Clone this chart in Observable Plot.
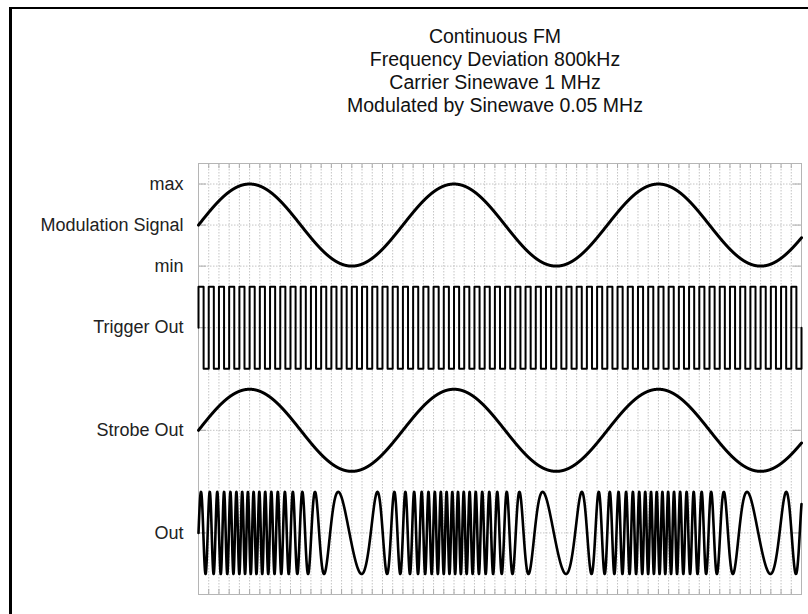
<!DOCTYPE html>
<html>
<head>
<meta charset="utf-8">
<script src="https://cdn.jsdelivr.net/npm/d3@7"></script>
<script src="https://cdn.jsdelivr.net/npm/@observablehq/plot@0.6"></script>
<style>
  html, body { margin: 0; padding: 0; background: #fff; }
  #wrap { position: relative; width: 808px; height: 614px; overflow: hidden; font-family: "Liberation Sans", Arial, sans-serif; }
  #border { position: absolute; left: 9px; top: 7px; width: 820px; height: 640px; border-top: 2px solid #000; border-left: 3px solid #000; box-sizing: border-box; }
  #title { position: relative; height: 130px; box-sizing: border-box; padding-top: 25px; padding-left: 182px; text-align: center; font-size: 19.5px; line-height: 23px; color: #111; }
  #chart svg { display: block; }
</style>
</head>
<body>
<div id="wrap">
  <div id="border"></div>
  <div id="title"></div>
  <div id="chart"></div>
</div>
<script>
// ---- data ----
const titleLines = ["Continuous FM", "Frequency Deviation 800kHz", "Carrier Sinewave 1 MHz", "Modulated by Sinewave 0.05 MHz"];
const timeSpanUs = [0, 59];          // microseconds shown
const carrierMHz = [1];
const modulationMHz = [0.05];
const deviationMHz = [0.8];
const channelNames = ["Modulation Signal", "Trigger Out", "Strobe Out", "Out"];
const channelCenters = [3, 2, 1, 0];
const channelAmplitude = [0.4];
const levelLabels = ["max", "min"];
const levelValues = [3.4, 2.6];

document.getElementById("title").innerHTML = titleLines.map(s => `<div>${s}</div>`).join("");

const fc = carrierMHz[0], fm = modulationMHz[0], df = deviationMHz[0], A = channelAmplitude[0];
const [t0, t1] = timeSpanUs;

// waveform samples from the stated signal parameters
const fine = d3.range(t0, t1 + 1e-9, 0.01);
const modSignal = fine.map(t => ({t, v: channelCenters[0] + A * Math.sin(2 * Math.PI * fm * t)}));
const strobe = fine.map(t => ({t, v: channelCenters[2] + A * Math.sin(2 * Math.PI * fm * t)}));
const outSig = fine.map(t => ({t, v: channelCenters[3] + A * Math.sin(2 * Math.PI * fc * t + (df / fm) * (1 - Math.cos(2 * Math.PI * fm * t)))}));
const halfPeriod = 0.5 / fc;
const trigger = [{t: t0, v: channelCenters[1]}];
for (let k = 0; t0 + k * halfPeriod < t1 - 1e-9; k++) {
  trigger.push({t: t0 + k * halfPeriod, v: channelCenters[1] + (k % 2 === 0 ? A : -A)});
}
trigger.push({t: t1, v: channelCenters[1]});

const gridTimes = d3.range(t0 + 1, t1, 1);
const yTicks = [...levelValues, ...channelCenters];
const labelOf = new Map([...levelValues.map((v, i) => [v, levelLabels[i]]), ...channelCenters.map((v, i) => [v, channelNames[i]])]);
const yDomain = [-0.6, 3.6];

const chart = Plot.plot({
  width: 808,
  height: 484,
  marginTop: 33,
  marginBottom: 20,
  marginLeft: 198,
  marginRight: 7,
  style: {fontFamily: "'Liberation Sans', Arial, sans-serif", background: "transparent"},
  x: {domain: timeSpanUs, axis: null, label: null},
  y: {domain: yDomain, axis: null, label: null},
  marks: [
    Plot.ruleX(gridTimes, {x: d => d, stroke: "#c4c4c4", strokeDasharray: "1.5,1.5", strokeWidth: 1}),
    Plot.ruleY(yTicks, {y: d => d, stroke: "#c4c4c4", strokeDasharray: "1.5,1.5", strokeWidth: 1}),
    Plot.ruleX(gridTimes, {x: d => d, y1: yDomain[1], y2: yDomain[1] - 0.05, stroke: "#aaa"}),
    Plot.ruleX(gridTimes, {x: d => d, y1: yDomain[0], y2: yDomain[0] + 0.05, stroke: "#aaa"}),
    Plot.ruleY(yTicks, {y: d => d, x1: t0, x2: t0 + 0.8, stroke: "#aaa"}),
    Plot.ruleY(yTicks, {y: d => d, x1: t1, x2: t1 - 0.8, stroke: "#aaa"}),
    Plot.frame({stroke: "#b5b5b5"}),
    Plot.line(trigger, {x: "t", y: "v", curve: "step-after", stroke: "#000", strokeWidth: 2}),
    Plot.line(outSig, {x: "t", y: "v", stroke: "#000", strokeWidth: 2.6}),
    Plot.line(modSignal, {x: "t", y: "v", stroke: "#000", strokeWidth: 3}),
    Plot.line(strobe, {x: "t", y: "v", stroke: "#000", strokeWidth: 3}),
    Plot.axisY(yTicks, {tickSize: 0, tickPadding: 15, fontSize: 18, label: null, tickFormat: d => labelOf.get(d), color: "#222"})
  ]
});
document.getElementById("chart").appendChild(chart);
</script>
</body>
</html>
